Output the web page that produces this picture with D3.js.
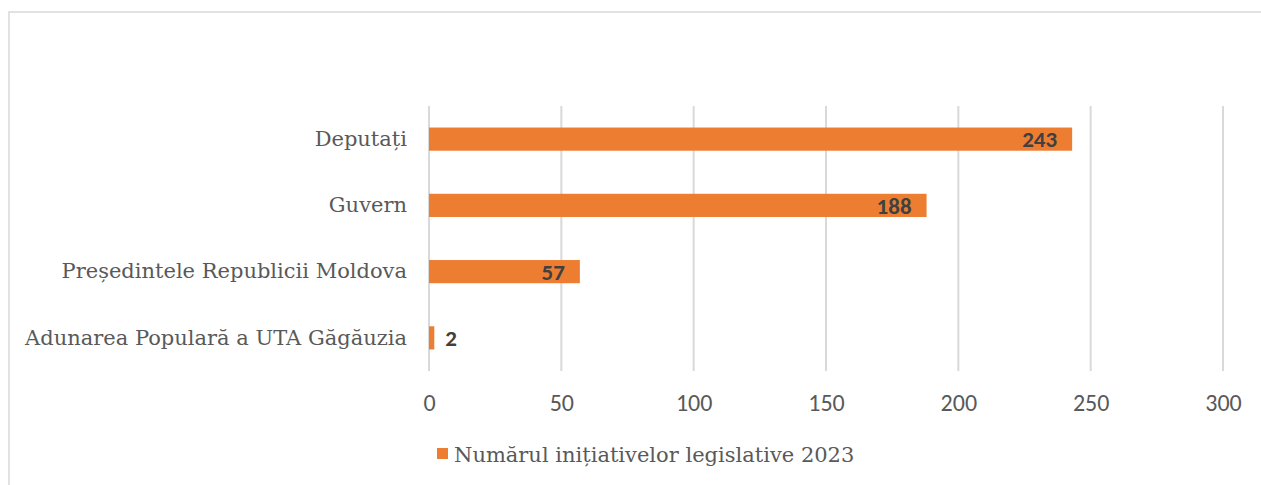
<!DOCTYPE html>
<html>
<head>
<meta charset="utf-8">
<script src="https://cdn.jsdelivr.net/npm/d3@7"></script>
<style>
  html, body { margin: 0; padding: 0; background: #fff; }
  svg { display: block; }
</style>
</head>
<body>
<div id="chart"></div>
<script>
// === DATA ===
const categories = ['Deputați', 'Guvern', 'Președintele Republicii Moldova', 'Adunarea Populară a UTA Găgăuzia']
const values = [243, 188, 57, 2]
const xTicks = [0, 50, 100, 150, 200, 250, 300]
const seriesName = 'Numărul inițiativelor legislative 2023'

// === LAYOUT ===
const W = 1261, H = 485
const plot = { left: 429, right: 1223, top: 106, bottom: 371 }
const ORANGE = '#ED7D31'
const GRID = '#d9d9d9'
const TEXT = '#595959'
const SERIF = 'Georgia, "DejaVu Serif", serif'
const SANS = 'Carlito, Calibri, "Open Sans", sans-serif'

const svg = d3.select('#chart').append('svg')
    .attr('width', W)
    .attr('height', H)

// chart frame
svg.append('rect')
    .attr('x', 9).attr('y', 12)
    .attr('width', W + 20).attr('height', H + 20)
    .attr('fill', 'none')
    .attr('stroke', GRID)
    .attr('stroke-width', 1.5)

const x = d3.scaleLinear().domain([0, 300]).range([plot.left, plot.right])
const y = d3.scaleBand()
    .domain(categories)
    .range([plot.top, plot.bottom])
    .paddingInner(0.65)
    .paddingOuter(0.325)

// gridlines
svg.append('g')
    .selectAll('line')
    .data(xTicks)
    .join('line')
    .attr('x1', d => x(d)).attr('x2', d => x(d))
    .attr('y1', plot.top).attr('y2', plot.bottom)
    .attr('stroke', GRID)
    .attr('stroke-width', 2)

// x tick labels
const xAxis = d3.axisBottom(x).tickValues(xTicks).tickSize(0).tickPadding(0)
const gx = svg.append('g')
    .attr('transform', `translate(0,${plot.bottom + 10})`)
    .call(xAxis)
gx.select('.domain').remove()
gx.selectAll('text')
    .attr('y', 0)
    .attr('dy', 30)
    .attr('fill', TEXT)
    .style('font-family', SANS)
    .style('font-size', '24px')

// category labels
const yAxis = d3.axisLeft(y).tickSize(0).tickPadding(22)
const gy = svg.append('g')
    .attr('transform', `translate(${plot.left},0)`)
    .call(yAxis)
gy.select('.domain').remove()
gy.selectAll('text')
    .attr('fill', TEXT)
    .style('font-family', SERIF)
    .style('font-size', '21px')

// bars
svg.append('g')
    .selectAll('rect')
    .data(values)
    .join('rect')
    .attr('x', x(0))
    .attr('y', (d, i) => y(categories[i]))
    .attr('width', d => x(d) - x(0))
    .attr('height', y.bandwidth())
    .attr('fill', ORANGE)

// value labels: inside end, outside when too small
svg.append('g')
    .selectAll('text')
    .data(values)
    .join('text')
    .attr('x', d => (x(d) - x(0) > 50 ? x(d) - 15 : x(d) + 11))
    .attr('y', (d, i) => y(categories[i]) + y.bandwidth() / 2)
    .attr('dy', '0.36em')
    .attr('text-anchor', d => (x(d) - x(0) > 50 ? 'end' : 'start'))
    .attr('fill', '#404040')
    .style('font-family', SANS)
    .style('font-weight', 'bold')
    .style('font-size', '23px')
    .text(d => d)

// legend
const legend = svg.append('g').attr('transform', 'translate(437,448)')
legend.append('rect')
    .attr('width', 11).attr('height', 11)
    .attr('fill', ORANGE)
legend.append('text')
    .attr('x', 17).attr('y', 6)
    .attr('dy', '0.36em')
    .attr('fill', TEXT)
    .style('font-family', SERIF)
    .style('font-size', '21px')
    .text(seriesName)
</script>
</body>
</html>
